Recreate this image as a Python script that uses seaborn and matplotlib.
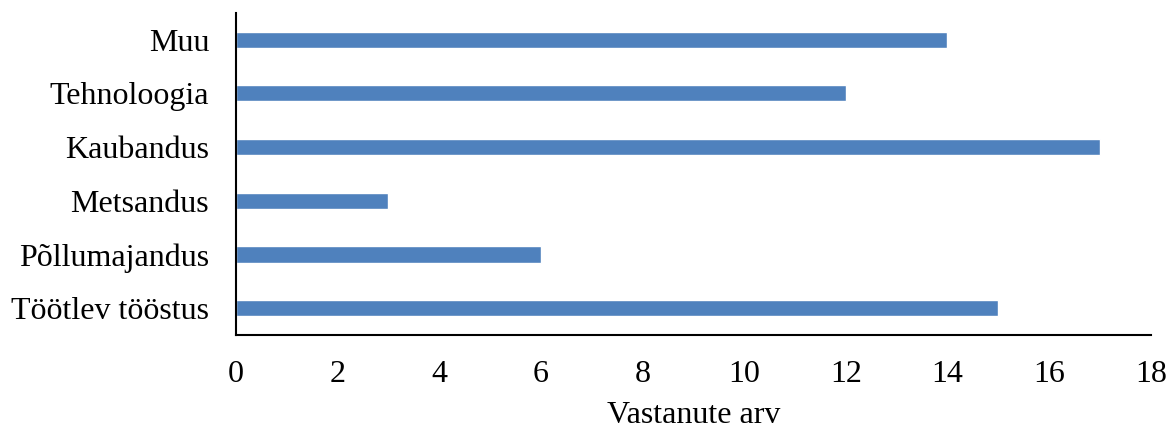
import matplotlib
matplotlib.use("Agg")
import matplotlib.pyplot as plt
import pandas as pd
import seaborn as sns

categories = ["Muu", "Tehnoloogia", "Kaubandus", "Metsandus", "Põllumajandus", "Töötlev tööstus"]
counts = [14, 12, 17, 3, 6, 15]
x_ticks = list(range(0, 19, 2))

df = pd.DataFrame({"sektor": categories, "arv": counts})

sns.set_style("white")
plt.rcParams["font.family"] = ["Liberation Serif", "DejaVu Serif"]
plt.rcParams["text.color"] = "black"
plt.rcParams["axes.labelcolor"] = "black"

fig = plt.figure(figsize=(11.72, 4.30), dpi=100)
ax = fig.add_axes([0.201, 0.221, 0.781, 0.749])

sns.barplot(data=df, y="sektor", x="arv", order=categories, color="#4F81BD",
            saturation=1, width=0.3, orient="h", ax=ax)

ax.set_xlim(0, 18)
ax.set_ylim(5.5, -0.5)
ax.set_xticks(x_ticks)
ax.set_xticklabels([str(t) for t in x_ticks])
ax.tick_params(axis="both", length=0, labelsize=23, colors="black")
ax.tick_params(axis="y", pad=19)
ax.tick_params(axis="x", pad=18)
ax.set_xlabel("Vastanute arv", fontsize=23, labelpad=9, color="black")
ax.set_ylabel("")

for side in ["top", "right"]:
    ax.spines[side].set_visible(False)
for side in ["left", "bottom"]:
    ax.spines[side].set_color("black")
    ax.spines[side].set_linewidth(1.5)

fig.savefig("out.png", dpi=100)
